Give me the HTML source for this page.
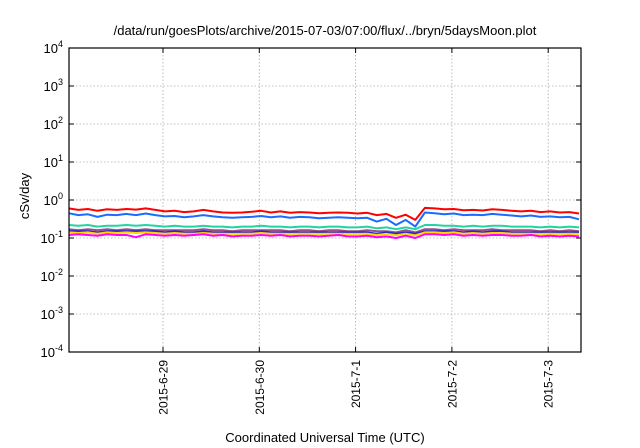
<!DOCTYPE html>
<html><head><meta charset="utf-8"><style>
body{margin:0;background:#fff;}
svg{display:block;font-family:"Liberation Sans",sans-serif;}
</style></head><body>
<svg id="chart" width="640" height="448">
<text x="325" y="35" text-anchor="middle" font-size="13">/data/run/goesPlots/archive/2015-07-03/07:00/flux/../bryn/5daysMoon.plot</text>
<g id="grid"></g>
<g id="series"></g>
<rect x="69" y="48" width="512" height="304" fill="none" stroke="#000" stroke-width="1.2"/>
<g id="axes"></g>
<text transform="translate(29,196) rotate(-90)" text-anchor="middle" font-size="13">cSv/day</text>
<text x="325" y="442" text-anchor="middle" font-size="13">Coordinated Universal Time (UTC)</text>
</svg>
<script>
const yExps=[4,3,2,1,0,-1,-2,-3,-4];
const xTickLabels=["2015-6-29","2015-6-30","2015-7-1","2015-7-2","2015-7-3"];
const xTickDays=[1,2,3,4,5];
const seriesNames=["red","blue","teal","purple","darkblue","yellow","magenta"];
const seriesColors=["#ff0000","#1a6cff","#22d4a0","#9a4c8e","#2a2ac8","#ffd800","#ff00ff"];
const red=[0.6,0.55,0.58,0.52,0.57,0.55,0.58,0.56,0.6,0.55,0.5,0.52,0.48,0.5,0.55,0.5,0.47,0.46,0.47,0.49,0.52,0.47,0.5,0.46,0.48,0.47,0.45,0.46,0.47,0.46,0.44,0.46,0.4,0.43,0.34,0.41,0.3,0.62,0.6,0.57,0.58,0.54,0.55,0.53,0.57,0.55,0.52,0.5,0.52,0.48,0.5,0.47,0.48,0.44];
const blue=[0.45,0.4,0.42,0.36,0.41,0.4,0.43,0.4,0.44,0.4,0.37,0.38,0.35,0.37,0.4,0.37,0.35,0.34,0.35,0.36,0.38,0.35,0.37,0.34,0.36,0.35,0.33,0.34,0.35,0.34,0.33,0.34,0.27,0.32,0.22,0.3,0.2,0.47,0.45,0.42,0.44,0.4,0.41,0.4,0.43,0.41,0.39,0.37,0.39,0.36,0.37,0.35,0.36,0.31];
const teal=[0.22,0.21,0.22,0.2,0.21,0.21,0.22,0.21,0.22,0.21,0.2,0.21,0.2,0.2,0.21,0.2,0.2,0.19,0.2,0.2,0.21,0.2,0.2,0.19,0.2,0.2,0.19,0.2,0.2,0.19,0.19,0.2,0.18,0.19,0.17,0.19,0.17,0.22,0.22,0.21,0.21,0.2,0.21,0.2,0.21,0.21,0.2,0.2,0.2,0.19,0.2,0.19,0.2,0.19];
const purple=[0.17,0.16,0.17,0.16,0.17,0.16,0.17,0.16,0.17,0.16,0.16,0.16,0.16,0.16,0.17,0.16,0.16,0.15,0.16,0.16,0.16,0.16,0.16,0.15,0.16,0.16,0.15,0.16,0.16,0.15,0.15,0.16,0.15,0.15,0.14,0.16,0.14,0.17,0.17,0.16,0.17,0.16,0.16,0.16,0.17,0.16,0.16,0.16,0.16,0.15,0.16,0.15,0.16,0.15];
const darkblue=[0.15,0.15,0.15,0.14,0.15,0.15,0.15,0.15,0.15,0.15,0.14,0.15,0.14,0.14,0.15,0.14,0.14,0.14,0.14,0.14,0.15,0.14,0.14,0.14,0.14,0.14,0.14,0.14,0.14,0.14,0.14,0.14,0.13,0.14,0.13,0.14,0.13,0.15,0.15,0.15,0.15,0.14,0.15,0.14,0.15,0.15,0.14,0.14,0.14,0.14,0.14,0.14,0.14,0.14];
const yellow=[0.14,0.135,0.14,0.13,0.14,0.135,0.14,0.135,0.14,0.135,0.13,0.135,0.13,0.13,0.135,0.13,0.13,0.128,0.13,0.13,0.135,0.13,0.13,0.128,0.13,0.13,0.128,0.13,0.13,0.128,0.128,0.13,0.12,0.128,0.118,0.13,0.118,0.14,0.14,0.135,0.14,0.13,0.135,0.13,0.135,0.135,0.13,0.13,0.13,0.128,0.13,0.128,0.13,0.128];
const magenta=[0.12,0.125,0.12,0.115,0.125,0.12,0.12,0.105,0.125,0.12,0.115,0.12,0.115,0.12,0.125,0.115,0.12,0.11,0.115,0.115,0.12,0.115,0.12,0.11,0.115,0.115,0.11,0.115,0.12,0.11,0.11,0.115,0.105,0.11,0.1,0.115,0.1,0.125,0.125,0.12,0.125,0.115,0.12,0.115,0.12,0.12,0.115,0.115,0.12,0.11,0.115,0.11,0.115,0.11];
const allSeries=[red,blue,teal,purple,darkblue,yellow,magenta];
const startDay=0.02, stepDay=0.1;
const L=69,R=581,T=48,B=352,day0X=66.7,dayW=96.3;
const NS="http://www.w3.org/2000/svg";
function xs(d){return day0X+d*dayW;}
function ys(v){return B-(Math.log10(v)+4)/8*(B-T);}
function mk(tag,attrs,parent){const e=document.createElementNS(NS,tag);for(const k in attrs)e.setAttribute(k,attrs[k]);parent.appendChild(e);return e;}
const grid=document.getElementById('grid'),axes=document.getElementById('axes'),sg=document.getElementById('series');
yExps.forEach(p=>{
  const y=ys(Math.pow(10,p));
  if(p<4&&p>-4){const g=mk('line',{x1:L,x2:R,y1:y,y2:y,stroke:'#aaa','stroke-dasharray':'1.5,2','stroke-width':0.8},grid);
  
  }
  const t1=mk('line',{x1:L,x2:L+5,y1:y,y2:y,stroke:'#000'},axes);
  
  
  const t2=mk('line',{x1:R-5,x2:R,y1:y,y2:y,stroke:'#000'},axes);
  
  
  const tx=mk('text',{x:L-6,y:y+5,'text-anchor':'end','font-size':13},axes);
  
  
  tx.textContent='10';
  const sup=mk('tspan',{dy:-6,'font-size':9},tx);sup.textContent=String(p);
});
xTickDays.forEach((d,i)=>{
  const x=xs(d);
  const g=mk('line',{x1:x,x2:x,y1:T,y2:B,stroke:'#aaa','stroke-dasharray':'1.5,2','stroke-width':0.8},grid);
  
  
  const t1=mk('line',{x1:x,x2:x,y1:B-5,y2:B,stroke:'#000'},axes);
  
  
  const t2=mk('line',{x1:x,x2:x,y1:T,y2:T+5,stroke:'#000'},axes);
  
  
  const tx=mk('text',{transform:`translate(${x+4.5},360) rotate(-90)`,'text-anchor':'end','font-size':12},axes);
  
  
  tx.textContent=xTickLabels[i];
});
allSeries.forEach((arr,si)=>{
  const pts=arr.map((v,i)=>xs(startDay+i*stepDay).toFixed(1)+','+ys(v).toFixed(1)).join(' ');
  const pl=mk('polyline',{points:pts,fill:'none',stroke:seriesColors[si],'stroke-width':2,'stroke-linejoin':'round'},sg);
  
  
});
</script>
</body></html>
